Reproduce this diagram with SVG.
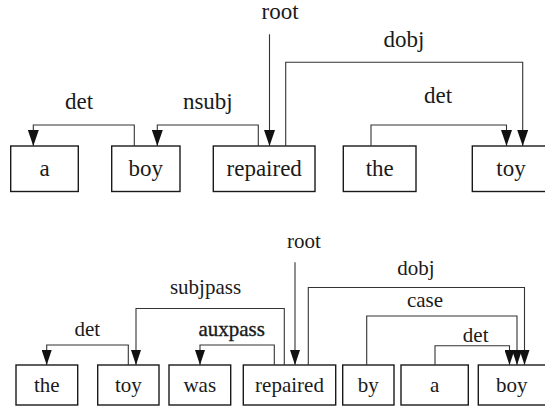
<svg xmlns="http://www.w3.org/2000/svg" width="545" height="406" viewBox="0 0 545 406">
  <defs>
    <style>
      .box { fill: #ffffff; stroke: #1a1a1a; stroke-width: 1.4; }
      .word, .lbl { fill: #1a1a1a; text-anchor: middle; }
      .top .word { font-size: 23px; }
      .bottom .word { font-size: 21px; }
      .lbl-top { font-size: 23px; }
      .lbl-bot { font-size: 21px; }
      .edge { fill: none; stroke: #333333; stroke-width: 1.1; }
      .edge-top { marker-end: url(#arrowTop); }
      .edge-bot { marker-end: url(#arrowBot); }
    </style>
    <!-- arrowheads drawn along +x with the tip at the origin -->
    <marker id="arrowTop" markerUnits="userSpaceOnUse" viewBox="-16 -5.5 16 11" markerWidth="16" markerHeight="11" refX="0" refY="0" orient="auto">
      <path d="M-16,-5.5 L0,0 L-16,5.5 Z" fill="#111111"/>
    </marker>
    <marker id="arrowBot" markerUnits="userSpaceOnUse" viewBox="-15 -5 15 10" markerWidth="15" markerHeight="10" refX="0" refY="0" orient="auto">
      <path d="M-15,-5 L0,0 L-15,5 Z" fill="#111111"/>
    </marker>
  </defs>

  <g font-family="Liberation Serif, DejaVu Serif, serif">
  <!-- Sentence 1: a boy repaired the toy -->
  <g class="top">
    <g id="t-a"><rect class="box" x="10.7" y="146" width="67.6" height="45.5"/><text class="word" x="44.5" y="175.5">a</text></g>
    <g id="t-boy"><rect class="box" x="111.7" y="146" width="68.3" height="45.5"/><text class="word" x="145.8" y="175.5">boy</text></g>
    <g id="t-repaired"><rect class="box" x="213.3" y="146" width="101.7" height="45.5"/><text class="word" x="264.2" y="175.5">repaired</text></g>
    <g id="t-the"><rect class="box" x="343.3" y="146" width="72.7" height="45.5"/><text class="word" x="379.7" y="175.5">the</text></g>
    <g id="t-toy"><rect class="box" x="472.3" y="146" width="77" height="45.5"/><text class="word" x="511" y="175.5">toy</text></g>
  </g>

  <g id="top-connectors">
    <path class="edge edge-top" d="M134.3,146 V125 H33.3 V146"/>
    <path class="edge edge-top" d="M258.3,146 V125 H157.3 V146"/>
    <path class="edge edge-top" d="M269.5,34.3 V146"/>
    <path class="edge edge-top" d="M285.7,146 V62.3 H522.7 V146"/>
    <path class="edge edge-top" d="M371,146 V125 H506.5 V146"/>
    <text class="lbl lbl-top" x="280" y="19">root</text>
    <text class="lbl lbl-top" x="404" y="47">dobj</text>
    <text class="lbl lbl-top" x="79" y="109">det</text>
    <text class="lbl lbl-top" x="207.8" y="109">nsubj</text>
    <text class="lbl lbl-top" x="438" y="103">det</text>
  </g>

  <!-- Sentence 2: the toy was repaired by a boy -->
  <g class="bottom">
    <g id="b-the"><rect class="box" x="16" y="365" width="61.7" height="40"/><text class="word" x="46.8" y="391.5">the</text></g>
    <g id="b-toy"><rect class="box" x="97.7" y="365" width="61.3" height="40"/><text class="word" x="128.3" y="391.5">toy</text></g>
    <g id="b-was"><rect class="box" x="169" y="365" width="61.7" height="40"/><text class="word" x="199.8" y="391.5">was</text></g>
    <g id="b-repaired"><rect class="box" x="243.3" y="365" width="92.4" height="40"/><text class="word" x="289.5" y="391.5">repaired</text></g>
    <g id="b-by"><rect class="box" x="342.7" y="365" width="51.3" height="40"/><text class="word" x="368.3" y="391.5">by</text></g>
    <g id="b-a"><rect class="box" x="401" y="365" width="67.3" height="40"/><text class="word" x="434.7" y="391.5">a</text></g>
    <g id="b-boy"><rect class="box" x="478.3" y="365" width="68" height="40"/><text class="word" x="511.7" y="391.5">boy</text></g>
  </g>

  <g id="bottom-connectors">
    <path class="edge edge-bot" d="M128.3,365 V345 H46.7 V365"/>
    <path class="edge edge-bot" d="M284.3,365 V308.5 H136 V365"/>
    <path class="edge edge-bot" d="M274.3,365 V345 H200 V365"/>
    <path class="edge edge-bot" d="M295,262.3 V365"/>
    <path class="edge edge-bot" d="M308.3,365 V287.5 H524.5 V365"/>
    <path class="edge edge-bot" d="M366.7,365 V316 H517 V365"/>
    <path class="edge edge-bot" d="M435,365 V345.7 H509.5 V365"/>
    <text class="lbl lbl-bot" x="304" y="248.3">root</text>
    <text class="lbl lbl-bot" x="416" y="275">dobj</text>
    <text class="lbl lbl-bot" x="205.5" y="294">subjpass</text>
    <text class="lbl lbl-bot" x="425" y="306.7">case</text>
    <text class="lbl lbl-bot" x="87.3" y="335.7">det</text>
    <text class="lbl lbl-bot" x="231.7" y="336" stroke="#1a1a1a" stroke-width="0.35">auxpass</text>
    <text class="lbl lbl-bot" x="475.7" y="341.7">det</text>
  </g>
  </g>
</svg>
